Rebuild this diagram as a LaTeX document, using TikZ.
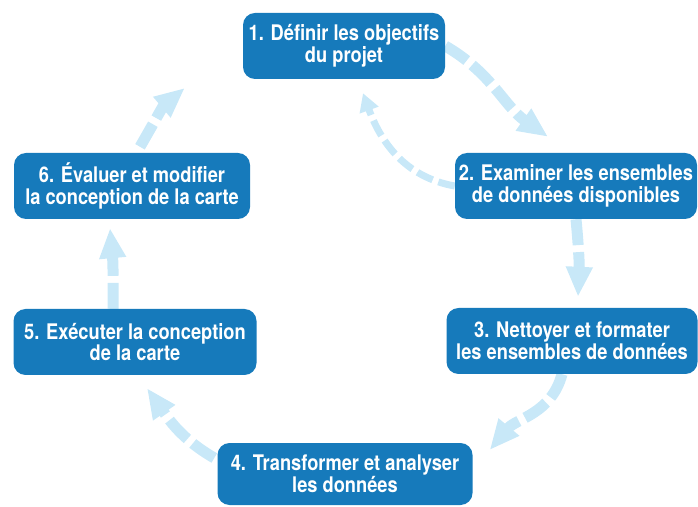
\documentclass[tikz,border=0pt]{standalone}
\usepackage{fontspec}
\setmainfont{TeX Gyre Heros}[FakeStretch=0.85]
\usepackage{tikz}
\usetikzlibrary{positioning,calc,arrows.meta,backgrounds}

\definecolor{etape}{RGB}{22,122,187}
\definecolor{fleche}{RGB}{200,232,248}

\tikzset{
  etapebox/.style={rectangle, rounded corners=12pt, fill=etape, text=white,
    font=\bfseries\fontsize{21.5}{21.5}\selectfont, align=center,
    minimum height=66pt, inner sep=2pt},
  cycle/.style={fleche, line width=11pt, dash pattern=on 26pt off 7pt,
    -{Triangle[width=25pt,length=30pt]}},
  retour/.style={fleche, line width=7pt, dash pattern=on 17pt off 6pt,
    -{Triangle[width=19pt,length=18pt]}}
}

\begin{document}
\begin{tikzpicture}[x=1pt,y=1pt]
    \useasboundingbox (0,0) rectangle (698,506);
    %%%%% THE STEPS
    \node[etapebox, minimum width=202pt] (objectifs) at (344,460) {1. Définir les objectifs\\du projet};
    \node[etapebox, minimum width=242pt] (examiner) at (576,320) {2. Examiner les ensembles\\de données disponibles};
    \node[etapebox, minimum width=251pt] (nettoyer) at (572,165) {3. Nettoyer et formater\\les ensembles de données};
    \node[etapebox, minimum width=255pt, minimum height=62pt] (transformer) at (345,32) {4. Transformer et analyser\\les données};
    \node[etapebox, minimum width=243pt] (executer) at (135,164) {5. Exécuter la conception\\de la carte};
    \node[etapebox, minimum width=236pt] (evaluer) at (132,320) {6. Évaluer et modifier\\la conception de la carte};
    %%%%% THE CYCLE
    \begin{scope}[on background layer]
      \draw[cycle] (objectifs.east) to[out=-30,in=145] ($(examiner.north)+(-28,16)$);
      \draw[cycle] (examiner.south) to[bend left=4] ($(nettoyer.north)+(6,11)$);
      \draw[cycle] ($(nettoyer.south)+(-10,0)$) to[out=-105,in=50] ($(transformer.east)+(17,24)$);
      \draw[cycle] ($(transformer.west)+(-3,16)$) to[out=150,in=-55] ($(executer.south)+(12,-13)$);
      \draw[cycle] ($(executer.north)+(-22,0)$) to[bend right=3] ($(evaluer.south)+(-22,-9)$);
      \draw[cycle] ($(evaluer.north)+(8,6)$) to[out=60,in=-140] ($(objectifs.west)+(-58,-42)$);
      % way back from step 2 to step 1
      \draw[retour] (examiner.west) to[out=170,in=-70] ($(objectifs.south)+(19,-14)$);
    \end{scope}
  \end{tikzpicture}
\end{document}
